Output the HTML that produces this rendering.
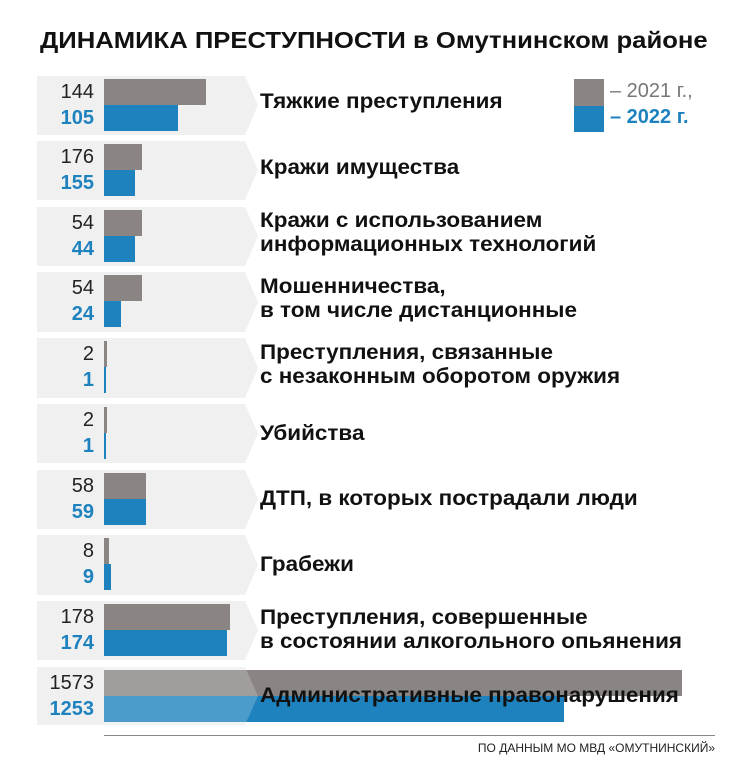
<!DOCTYPE html>
<html><head><meta charset="utf-8"><style>
body{margin:0;width:750px;height:775px;background:#fff;position:relative;overflow:hidden;font-family:"Liberation Sans","DejaVu Sans",sans-serif;}
.a{position:absolute;}
.t{position:absolute;left:40px;top:27px;font-size:23px;font-weight:bold;color:#111;white-space:nowrap;transform:scaleX(1.115);transform-origin:0 0}
.n1,.n2{position:absolute;right:656px;font-size:20px;line-height:24px;text-align:right}
.n1{color:#222}
.n2{color:#1e82bf;font-weight:bold}
.lab{position:absolute;left:260px;font-size:21px;line-height:24px;color:#111;white-space:nowrap;font-weight:600;transform:scaleX(1.07);transform-origin:0 0}
.g{position:absolute;left:104px;height:26px;background:#8a8582}
.b{position:absolute;left:104px;height:26px;background:#1e82bf}
</style></head><body>
<div class="t">ДИНАМИКА ПРЕСТУПНОСТИ в Омутнинском районе</div>
<svg class="a" style="left:0;top:0" width="750" height="775">
<g fill="#f0f0f0">
<polygon points="37,76 245,76 258,105 245,135 37,135"/>
<polygon points="37,141 245,141 258,170 245,200 37,200"/>
<polygon points="37,207 245,207 258,236 245,266 37,266"/>
<polygon points="37,272 245,272 258,302 245,332 37,332"/>
<polygon points="37,338 245,338 258,368 245,398 37,398"/>
<polygon points="37,404 245,404 258,433 245,463 37,463"/>
<polygon points="37,470 245,470 258,499 245,529 37,529"/>
<polygon points="37,535 245,535 258,565 245,595 37,595"/>
<polygon points="37,601 245,601 258,630 245,660 37,660"/>
<polygon points="37,667 245,667 258,696 245,725 37,725"/>
</g>
</svg>
<div class="g" style="top:79px;width:102px"></div><div class="b" style="top:105px;width:74px"></div>
<div class="g" style="top:144px;width:38px"></div><div class="b" style="top:170px;width:31px"></div>
<div class="g" style="top:210px;width:38px"></div><div class="b" style="top:236px;width:31px"></div>
<div class="g" style="top:275px;width:38px"></div><div class="b" style="top:301px;width:17px"></div>
<div class="g" style="top:341px;width:3px"></div><div class="b" style="top:367px;width:1.5px"></div>
<div class="g" style="top:407px;width:3px"></div><div class="b" style="top:433px;width:1.5px"></div>
<div class="g" style="top:473px;width:42px"></div><div class="b" style="top:499px;width:42px"></div>
<div class="g" style="top:538px;width:5px"></div><div class="b" style="top:564px;width:7px"></div>
<div class="g" style="top:604px;width:126px"></div><div class="b" style="top:630px;width:123px"></div>
<div class="g" style="top:670px;width:578px"></div><div class="b" style="top:696px;width:460px"></div>
<svg class="a" style="left:0;top:0" width="750" height="775"><polygon points="104,667 245,667 258,696 245,725 104,725" fill="#fff" opacity="0.2"/></svg>
<div class="n1" style="top:80px">144</div><div class="n2" style="top:106px">105</div>
<div class="n1" style="top:145px">176</div><div class="n2" style="top:171px">155</div>
<div class="n1" style="top:211px">54</div><div class="n2" style="top:237px">44</div>
<div class="n1" style="top:276px">54</div><div class="n2" style="top:302px">24</div>
<div class="n1" style="top:342px">2</div><div class="n2" style="top:368px">1</div>
<div class="n1" style="top:408px">2</div><div class="n2" style="top:434px">1</div>
<div class="n1" style="top:474px">58</div><div class="n2" style="top:500px">59</div>
<div class="n1" style="top:539px">8</div><div class="n2" style="top:565px">9</div>
<div class="n1" style="top:605px">178</div><div class="n2" style="top:631px">174</div>
<div class="n1" style="top:671px">1573</div><div class="n2" style="top:697px">1253</div>
<div class="lab" style="top:90px">Тяжкие преступления</div>
<div class="lab" style="top:156px">Кражи имущества</div>
<div class="lab" style="top:209px">Кражи с использованием<br>информационных технологий</div>
<div class="lab" style="top:275px">Мошенничества,<br>в том числе дистанционные</div>
<div class="lab" style="top:341px">Преступления, связанные<br>с незаконным оборотом оружия</div>
<div class="lab" style="top:422px">Убийства</div>
<div class="lab" style="top:487px">ДТП, в которых пострадали люди</div>
<div class="lab" style="top:553px">Грабежи</div>
<div class="lab" style="top:606px">Преступления, совершенные<br>в состоянии алкогольного опьянения</div>
<div class="lab" style="top:684px">Административные правонарушения</div>
<div class="a" style="left:574px;top:79px;width:30px;height:27px;background:#8a8582"></div>
<div class="a" style="left:574px;top:106px;width:30px;height:26px;background:#1e82bf"></div>
<div class="a" style="left:610px;top:80px;font-size:20px;color:#777;white-space:nowrap">– 2021 г.,</div>
<div class="a" style="left:610px;top:106px;font-size:20px;color:#1e82bf;font-weight:bold;white-space:nowrap">– 2022 г.</div>
<div class="a" style="left:104px;top:735px;width:611px;height:1px;background:#888"></div>
<div class="a" style="right:35px;top:741px;font-size:12px;color:#222;white-space:nowrap">ПО ДАННЫМ МО МВД «ОМУТНИНСКИЙ»</div>
</body></html>
